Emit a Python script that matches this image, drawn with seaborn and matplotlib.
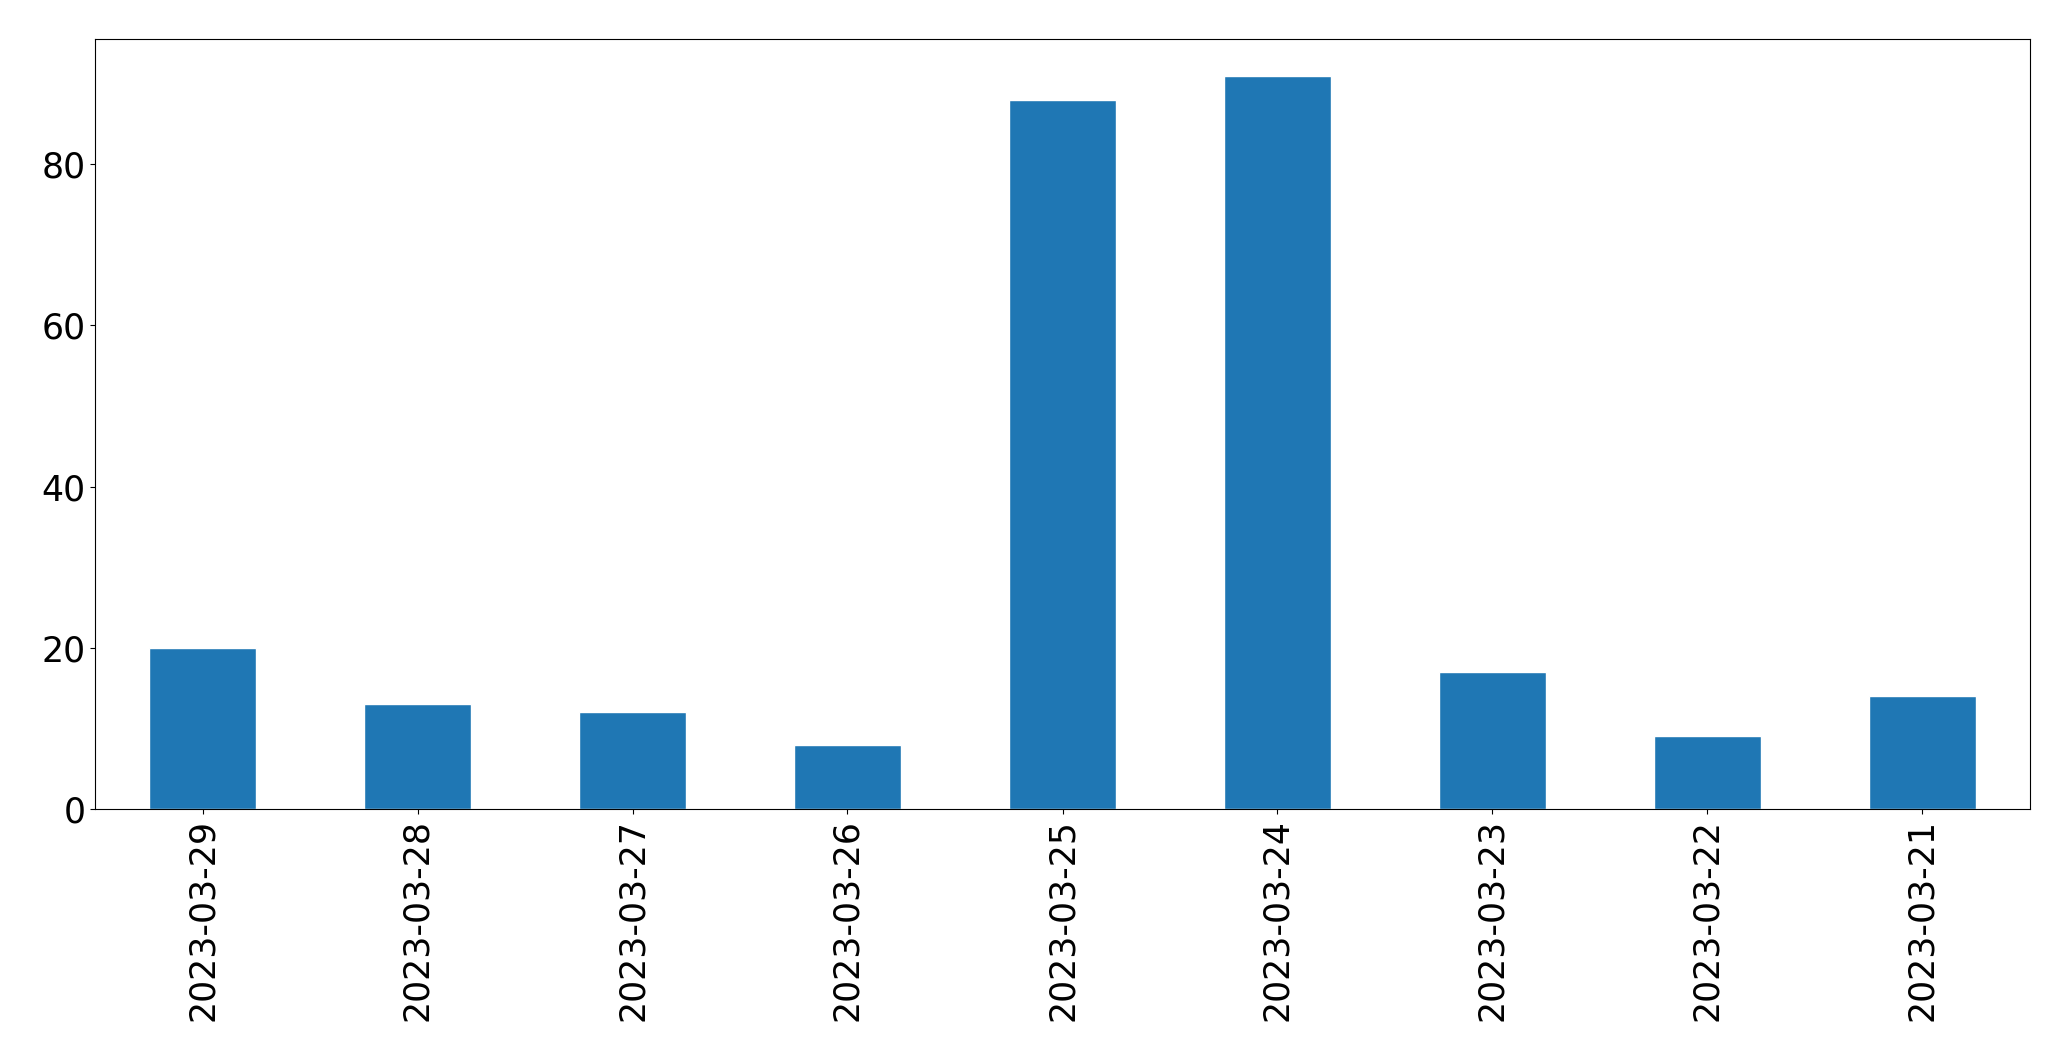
import pandas as pd
import matplotlib
matplotlib.use("Agg")
import matplotlib.pyplot as plt
import seaborn as sns

# daily counts, newest first
dates = ["2023-03-29", "2023-03-28", "2023-03-27", "2023-03-26", "2023-03-25",
         "2023-03-24", "2023-03-23", "2023-03-22", "2023-03-21"]
counts = [20, 13, 12, 8, 88, 91, 17, 9, 14]

df = pd.DataFrame({"date": dates, "count": counts})

sns.set_style("ticks")
plt.rcParams["font.family"] = ["DejaVu Sans"]

fig, ax = plt.subplots(figsize=(20.71, 10.61), dpi=100)
sns.barplot(data=df, x="date", y="count", color="#1f77b4", saturation=1,
            width=0.5, ax=ax)
ax.set_xlim(-0.5, len(dates) - 0.5)
ax.set_xlabel("")
ax.set_ylabel("")
ax.tick_params(axis="both", labelsize=25, length=3.5, width=0.8,
               colors="black")
ax.tick_params(axis="x", rotation=90)
for s in ax.spines.values():
    s.set_visible(True)
    s.set_linewidth(0.8)
    s.set_color("black")

# axes box: x 95..2030, y 39..809 of 2071x1061
plt.subplots_adjust(left=95 / 2071, right=2030 / 2071,
                    top=1 - 39 / 1061, bottom=1 - 809 / 1061)
plt.savefig("out.png")
